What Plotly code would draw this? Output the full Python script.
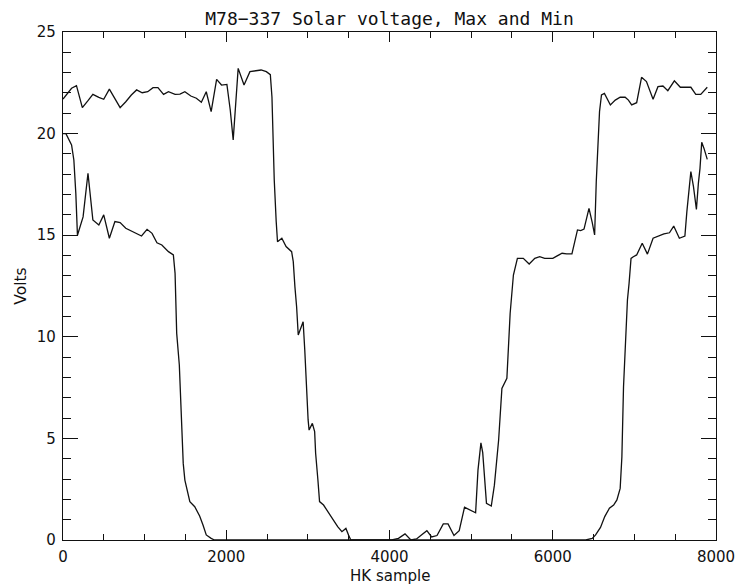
import plotly.graph_objects as go

# HK sample positions and voltages for the Max curve
x_max = [0, 105, 165, 237, 306, 366, 439, 499, 568, 636, 700, 769, 837, 902, 970,
         1038, 1103, 1163, 1232, 1292, 1373, 1433, 1493, 1566, 1634, 1695, 1755,
         1815, 1882, 1942, 2008, 2049, 2085, 2146, 2218, 2290, 2359, 2427, 2491,
         2540, 2560, 2572, 2588, 2612, 2628, 2681, 2733, 2801, 2821, 2841, 2862,
         2882, 2942, 2962, 2982, 3003, 3015, 3055, 3083, 3095, 3123, 3143, 3192,
         3244, 3305, 3365, 3417, 3466, 3498, 3526, 3707, 3949, 4029, 4110, 4190,
         4262, 4331, 4391, 4458, 4516, 4582, 4659, 4717, 4790, 4854, 4919, 4987,
         5055, 5084, 5120, 5142, 5188, 5247, 5285, 5337, 5377, 5438, 5478, 5518,
         5567, 5639, 5711, 5780, 5840, 5901, 6001, 6054, 6114, 6170, 6235, 6303,
         6343, 6383, 6444, 6484, 6513, 6533, 6557, 6573, 6597, 6633, 6706, 6766,
         6826, 6887, 6927, 6967, 7028, 7088, 7148, 7229, 7289, 7350, 7410, 7490,
         7563, 7631, 7692, 7752, 7813, 7893]
y_max = [21.7, 22.23, 22.36, 21.28, 21.62, 21.93, 21.78, 21.69, 22.19, 21.69, 21.28,
         21.57, 21.90, 22.15, 22.01, 22.06, 22.26, 22.26, 21.93, 22.06, 21.93, 21.94,
         22.06, 21.85, 21.74, 21.54, 22.06, 21.08, 22.67, 22.39, 22.42, 21.16, 19.69,
         23.21, 22.39, 23.05, 23.08, 23.13, 23.05, 22.9, 21.8, 19.77, 17.72, 15.67,
         14.68, 14.85, 14.44, 14.19, 13.70, 12.47, 11.48, 10.09, 10.74, 9.35, 7.38,
         5.91, 5.41, 5.74, 5.33, 4.27, 2.95, 1.89, 1.72, 1.39, 0.98, 0.66, 0.41,
         0.57, 0.25, 0.0, 0.0, 0.0, 0.0, 0.08, 0.30, 0.0, 0.05, 0.25, 0.46, 0.15,
         0.22, 0.79, 0.79, 0.22, 0.46, 1.61, 1.49, 1.34, 3.44, 4.78, 4.3, 1.80,
         1.67, 2.7, 4.92, 7.46, 7.96, 11.15, 13.04, 13.86, 13.86, 13.58, 13.86,
         13.94, 13.86, 13.86, 13.98, 14.11, 14.08, 14.08, 15.26, 15.23, 15.3, 16.32,
         15.62, 15.01, 17.63, 19.36, 21.08, 21.90, 21.98, 21.41, 21.65, 21.79, 21.79,
         21.65, 21.41, 21.52, 22.77, 22.56, 21.69, 22.31, 22.34, 22.11, 22.60, 22.28,
         22.28, 22.28, 21.93, 21.93, 22.28]

# HK sample positions and voltages for the Min curve
x_min = [0, 36, 105, 133, 157, 177, 246, 306, 366, 439, 499, 568, 636, 700, 769,
         837, 902, 962, 1030, 1091, 1151, 1211, 1292, 1352, 1373, 1393, 1425, 1445,
         1473, 1493, 1554, 1614, 1674, 1715, 1755, 1815, 1855, 6404, 6484, 6525,
         6585, 6637, 6694, 6746, 6786, 6826, 6847, 6867, 6887, 6915, 6935, 6959,
         6987, 7028, 7096, 7160, 7229, 7289, 7362, 7430, 7482, 7551, 7619, 7643,
         7663, 7692, 7724, 7760, 7784, 7804, 7825, 7853, 7893]
y_min = [20.0, 20.0, 19.44, 18.7, 17.06, 15.0, 15.9, 18.05, 15.75, 15.5, 16.0, 14.85,
         15.67, 15.62, 15.34, 15.2, 15.09, 14.96, 15.29, 15.09, 14.63, 14.52, 14.19,
         14.03, 13.12, 10.17, 8.61, 6.15, 3.77, 2.95, 1.89, 1.64, 1.18, 0.74, 0.25,
         0.08, 0.0, 0.0, 0.08, 0.25, 0.62, 1.15, 1.56, 1.72, 1.97, 2.54, 4.10, 7.54,
         9.68, 11.81, 12.63, 13.86, 13.94, 14.03, 14.60, 14.07, 14.85, 14.96, 15.06,
         15.12, 15.45, 14.85, 14.96, 16.16, 16.90, 18.13, 17.39, 16.27, 17.55, 18.29,
         19.57, 19.27, 18.73]

x_ticks = [0, 2000, 4000, 6000, 8000]
y_ticks = [0, 5, 10, 15, 20, 25]

title_text = "M78−337 Solar voltage, Max and Min"
x_title = "HK sample"
y_title = "Volts"

# The page body keeps its default 8px margin, so the figure is drawn 8px in
# from the top-left corner of the window; size it to fill the rest.
OFF = 8
W, H = 747 - OFF, 587 - OFF
L, R, T, B = 63 - OFF, 21, 32 - OFF, 47
PW, PH = W - L - R, H - T - B

fig = go.Figure()
line = dict(color="#111111", width=1.3)
fig.add_trace(go.Scatter(x=x_max, y=y_max, mode="lines", line=line, showlegend=False))
fig.add_trace(go.Scatter(x=x_min, y=y_min, mode="lines", line=line, showlegend=False))

tickfont = dict(family="DejaVu Sans", size=15, color="#111111")
axis_common = dict(showgrid=False, zeroline=False, showline=True, linecolor="#111111",
                   linewidth=1.3, mirror="allticks", ticks="inside", tickcolor="#111111",
                   tickwidth=1.3, tickfont=tickfont)

fig.update_xaxes(range=[0, 8000], tickvals=x_ticks, ticklen=10,
                 minor=dict(dtick=500, tick0=0, ticklen=6, ticks="inside",
                            tickcolor="#111111", tickwidth=1.3),
                 ticklabelstandoff=3, **axis_common)
fig.update_yaxes(range=[0, 25], tickvals=y_ticks, ticklen=15,
                 minor=dict(dtick=1, tick0=0, ticklen=8, ticks="inside",
                            tickcolor="#111111", tickwidth=1.3),
                 ticklabelstandoff=3, **axis_common)

fig.update_layout(
    width=W, height=H,
    margin=dict(l=L, r=R, t=T, b=B, pad=0),
    paper_bgcolor="white", plot_bgcolor="white",
    title=dict(text=title_text, x=0.5, xref="paper", xanchor="center",
               y=1 - (19 - OFF) / H, yref="container", yanchor="middle",
               font=dict(family="DejaVu Sans Mono", size=18, color="#111111")),
    annotations=[
        dict(text=x_title, xref="paper", yref="paper", x=0.5, y=-(575.5 - 540) / PH,
             xanchor="center", yanchor="middle", showarrow=False, borderpad=0,
             font=dict(family="DejaVu Sans", size=15, color="#111111")),
        dict(text=y_title, xref="paper", yref="paper", x=-(63 - 20) / PW, y=0.5,
             xanchor="center", yanchor="middle", textangle=-90, showarrow=False,
             font=dict(family="DejaVu Sans", size=15.5, color="#111111")),
    ],
)

fig.write_html("out.html")
